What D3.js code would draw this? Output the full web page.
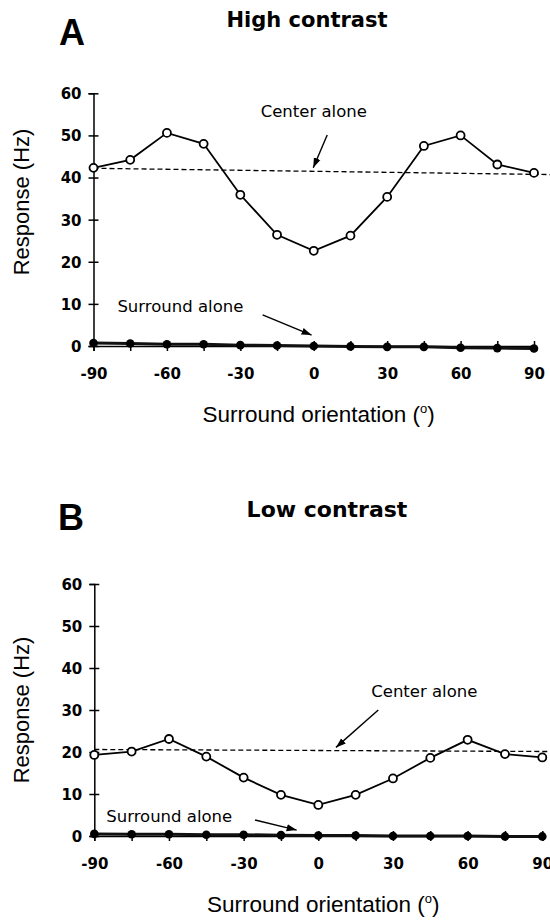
<!DOCTYPE html>
<html>
<head>
<meta charset="utf-8">
<script src="https://cdn.jsdelivr.net/npm/d3@7"></script>
<style>
  body { margin: 0; background: #fff; }
</style>
</head>
<body>
<div id="chart"></div>
<script>
// surround orientation (deg), every 15
var orientations = [-90, -75, -60, -45, -30, -15, 0, 15, 30, 45, 60, 75, 90];
var xLabelValues = [-90, -60, -30, 0, 30, 60, 90];
var yTickValues = [0, 10, 20, 30, 40, 50, 60];

// A - high contrast (Hz)
var highCenterSurround = [42.3, 44.2, 50.6, 48.0, 35.9, 26.4, 22.6, 26.2, 35.4, 47.5, 50.0, 43.1, 41.1];
var highSurroundAlone = [0.7, 0.6, 0.4, 0.4, 0.2, 0.1, 0, -0.1, -0.2, -0.2, -0.4, -0.5, -0.6];
var highCenterAlone = [42.2, 40.7];

// B - low contrast (Hz)
var lowCenterSurround = [19.3, 20.1, 23.1, 18.9, 13.9, 9.8, 7.4, 9.8, 13.7, 18.6, 22.9, 19.5, 18.7];
var lowSurroundAlone = [0.5, 0.4, 0.4, 0.3, 0.3, 0.2, 0.1, 0.1, 0, 0, 0, -0.1, -0.1];
var lowCenterAlone = [20.6, 20.1];

// dashed "center alone" line runs from -90 past the right end of the axis
var centerAloneX = [-90, 97];

var svgWidth = 550;
var svgHeight = 924;

var svg = d3.select("#chart")
  .append("svg")
  .attr("width", svgWidth)
  .attr("height", svgHeight);

// arrow head
svg.append("defs").append("marker")
  .attr("id", "arrow")
  .attr("markerUnits", "userSpaceOnUse")
  .attr("markerWidth", 11)
  .attr("markerHeight", 8)
  .attr("refX", 10)
  .attr("refY", 4)
  .attr("orient", "auto")
  .append("path")
  .attr("d", "M0,0.5 L10,4 L0,7.5 Z")
  .attr("fill", "#000");

var panels = [
  {
    letter: "A", title: "High contrast", titleSize: 21,
    letterXY: [59, 45], titleXY: [307, 27],
    xRange: [93.5, 534], yRange: [346, 93.3],
    withSurround: highCenterSurround, surround: highSurroundAlone, center: highCenterAlone,
    yLabelAt: 34.2,
    centerText: [0, 54.3], centerArrow: [[5.5, 50.1], [-0.2, 42.3]],
    surroundText: [-54.5, 8.1], surroundArrow: [[-20.9, 7.4], [-0.9, 2.6]]
  },
  {
    letter: "B", title: "Low contrast", titleSize: 22,
    letterXY: [58, 530], titleXY: [327, 517],
    xRange: [94.3, 542.3], yRange: [836, 584],
    withSurround: lowCenterSurround, surround: lowSurroundAlone, center: lowCenterAlone,
    yLabelAt: 30,
    centerText: [42.6, 33.1], centerArrow: [[24.1, 30.0], [7.1, 21.1]],
    surroundText: [-59.9, 3.3], surroundArrow: [[-25.4, 3.8], [-8.7, 1.4]]
  }
];

panels.forEach(function(p) {
  var g = svg.append("g");

  var x = d3.scaleLinear().domain([-90, 90]).range(p.xRange);
  var y = d3.scaleLinear().domain([0, 60]).range(p.yRange);

  // panel letter and title
  g.append("text")
    .attr("x", p.letterXY[0]).attr("y", p.letterXY[1])
    .attr("font-family", "Liberation Sans, Arial, sans-serif")
    .attr("font-weight", "bold")
    .attr("font-size", "36px")
    .text(p.letter);

  g.append("text")
    .attr("x", p.titleXY[0]).attr("y", p.titleXY[1])
    .attr("text-anchor", "middle")
    .attr("font-family", "DejaVu Sans, sans-serif")
    .attr("font-weight", "bold")
    .attr("font-size", p.titleSize + "px")
    .text(p.title);

  // axes
  var leftAxis = d3.axisLeft(y).tickValues(yTickValues).tickFormat(String).tickSizeOuter(0).tickSize(5);
  var bottomAxis = d3.axisBottom(x).tickValues(orientations)
    .tickFormat(function(d) { return xLabelValues.indexOf(d) >= 0 ? String(d) : ""; })
    .tickSizeOuter(0).tickSize(5);

  var ya = g.append("g")
    .attr("transform", "translate(" + p.xRange[0] + ",0)")
    .call(leftAxis);
  ya.selectAll(".tick line").attr("x1", -5).attr("x2", 5);
  ya.selectAll(".tick text")
    .attr("x", -12).attr("dy", "0.36em")
    .attr("font-family", "DejaVu Sans, sans-serif")
    .attr("font-weight", "bold")
    .attr("font-size", "15px");

  var xa = g.append("g")
    .attr("transform", "translate(0," + y(0) + ")")
    .call(bottomAxis);
  xa.selectAll(".tick line").attr("y1", -5).attr("y2", 5);
  xa.selectAll(".tick text")
    .attr("y", 33).attr("dy", null)
    .attr("font-family", "DejaVu Sans, sans-serif")
    .attr("font-weight", "bold")
    .attr("font-size", "15px");

  g.selectAll(".domain, .tick line").attr("stroke", "#000").attr("stroke-width", 1.5);
  g.selectAll(".tick text").attr("fill", "#000");

  // axis titles
  g.append("text")
    .attr("transform", "translate(29," + y(p.yLabelAt) + ") rotate(-90)")
    .attr("text-anchor", "middle")
    .attr("font-family", "Liberation Sans, Arial, sans-serif")
    .attr("font-size", "22px")
    .text("Response (Hz)");

  var xl = g.append("text")
    .attr("x", x(2)).attr("y", y(0) + 76)
    .attr("text-anchor", "middle")
    .attr("font-family", "Liberation Sans, Arial, sans-serif")
    .attr("font-size", "22.5px");
  xl.append("tspan").text("Surround orientation (");
  xl.append("tspan").attr("font-size", "13px").attr("dy", -9).text("o");
  xl.append("tspan").attr("dy", 9).text(")");

  // center alone, dashed
  var dashLine = d3.line().x(function(d) { return x(d[0]); }).y(function(d) { return y(d[1]); });
  g.append("path")
    .datum(centerAloneX.map(function(v, i) { return [v, p.center[i]]; }))
    .attr("d", dashLine)
    .attr("fill", "none")
    .attr("stroke", "#000")
    .attr("stroke-width", 1.3)
    .attr("stroke-dasharray", "5,3");

  var line = d3.line()
    .x(function(d, i) { return x(orientations[i]); })
    .y(function(d) { return y(d); });

  // surround alone, filled dots
  g.append("path")
    .datum(p.surround)
    .attr("d", line)
    .attr("fill", "none")
    .attr("stroke", "#111")
    .attr("stroke-width", 3);

  g.selectAll("circle.surr")
    .data(p.surround)
    .enter()
    .append("circle")
    .attr("class", "surr")
    .attr("cx", function(d, i) { return x(orientations[i]); })
    .attr("cy", function(d) { return y(d); })
    .attr("r", 4.3)
    .attr("fill", "#000");

  // center + surround, open circles
  g.append("path")
    .datum(p.withSurround)
    .attr("d", line)
    .attr("fill", "none")
    .attr("stroke", "#000")
    .attr("stroke-width", 1.8);

  g.selectAll("circle.open")
    .data(p.withSurround)
    .enter()
    .append("circle")
    .attr("class", "open")
    .attr("cx", function(d, i) { return x(orientations[i]); })
    .attr("cy", function(d) { return y(d); })
    .attr("r", 4)
    .attr("fill", "#fff")
    .attr("stroke", "#000")
    .attr("stroke-width", 1.8);

  // annotations
  g.append("text")
    .attr("x", x(p.centerText[0])).attr("y", y(p.centerText[1]))
    .attr("text-anchor", "middle")
    .attr("font-family", "DejaVu Sans, sans-serif")
    .attr("font-size", "16.5px")
    .text("Center alone");

  g.append("text")
    .attr("x", x(p.surroundText[0])).attr("y", y(p.surroundText[1]))
    .attr("text-anchor", "middle")
    .attr("font-family", "DejaVu Sans, sans-serif")
    .attr("font-size", "16.5px")
    .text("Surround alone");

  [p.centerArrow, p.surroundArrow].forEach(function(a) {
    g.append("line")
      .attr("x1", x(a[0][0])).attr("y1", y(a[0][1]))
      .attr("x2", x(a[1][0])).attr("y2", y(a[1][1]))
      .attr("stroke", "#000")
      .attr("stroke-width", 1.4)
      .attr("marker-end", "url(#arrow)");
  });
});
</script>
</body>
</html>
